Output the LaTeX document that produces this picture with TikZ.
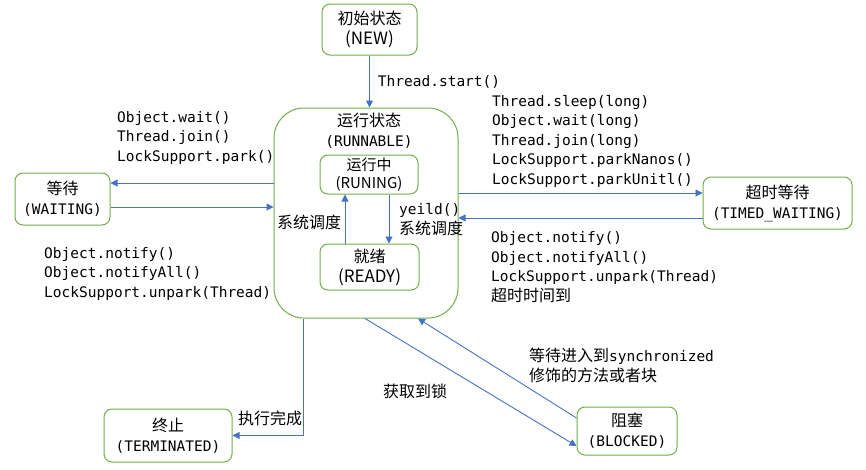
\documentclass[tikz,border=0pt]{standalone}
\usepackage{fontspec}
\setmainfont{Noto Sans CJK SC}
\setmonofont{DejaVu Sans Mono}
\usetikzlibrary{arrows.meta}
\definecolor{boxgreen}{RGB}{112,173,71}
\definecolor{lineblue}{RGB}{68,114,196}
\newcommand{\codetext}[1]{{\ttfamily\fontsize{14.5pt}{19.5pt}\selectfont #1}}
\newcommand{\cjktext}[1]{{\rmfamily\fontsize{16pt}{19.5pt}\selectfont #1}}

\begin{document}
\begin{tikzpicture}[x=1pt, y=-1pt, >={Triangle[length=7pt,width=7pt]},
  state/.style={draw=boxgreen, line width=1pt, rounded corners=8pt, align=center, inner sep=0pt, font=\fontsize{16pt}{20pt}\selectfont},
  trans/.style={->, draw=lineblue, line width=0.9pt},
  code/.style={anchor=west, align=left, inner sep=0pt, font=\ttfamily\fontsize{14.5pt}{19.5pt}\selectfont},
  note/.style={anchor=west, align=left, inner sep=0pt, font=\fontsize{16pt}{20pt}\selectfont}]
  \useasboundingbox (0,0) rectangle (866,469);

  \node[state, minimum width=95pt, minimum height=51pt] (new) at (369.5,29.5) {初始状态\\\fontsize{17pt}{20pt}\selectfont(NEW)};
  \node[state, rounded corners=30pt, minimum width=184pt, minimum height=210pt] (runnable) at (366,213) {};
  \node[align=center, inner sep=0pt, font=\fontsize{16pt}{20pt}\selectfont] (runtitle) at (369,131) {运行状态\\\codetext{(RUNNABLE)}};
  \node[state, minimum width=98pt, minimum height=39pt, font=\fontsize{15pt}{18pt}\selectfont] (runing) at (369,174.5) {运行中\\(RUNING)};
  \node[state, minimum width=99pt, minimum height=46pt] (ready) at (369.5,267) {就绪\\\fontsize{17pt}{20pt}\selectfont(READY)};
  \node[state, minimum width=95pt, minimum height=52pt] (waiting) at (62.5,199) {等待\\\codetext{(WAITING)}};
  \node[state, minimum width=149pt, minimum height=52pt] (timed) at (777.5,203) {超时等待\\\codetext{(TIMED\_WAITING)}};
  \node[state, minimum width=128pt, minimum height=53pt] (terminated) at (168,435.5) {终止\\\codetext{(TERMINATED)}};
  \node[state, minimum width=100pt, minimum height=48pt] (blocked) at (627,431) {阻塞\\\codetext{(BLOCKED)}};

  \draw[trans] (new) -- (new |- runnable.north) node[code, midway, xshift=8pt] {Thread.start()};

  \draw[trans] (runnable.west |- 0,183) -- (waiting.east |- 0,183);
  \draw[trans] (waiting.east |- 0,207) -- (runnable.west |- 0,207);
  \node[code] (waitin) at (117,137.5) {Object.wait()\\Thread.join()\\LockSupport.park()};
  \node[code] (waitout) at (44,273.5) {Object.notify()\\Object.notifyAll()\\LockSupport.unpark(Thread)};

  \draw[trans] (runing.south -| 389,0) -- (ready.north -| 389,0);
  \draw[trans] (ready.north -| 345,0) -- (runing.south -| 345,0);
  \node[note] (sched) at (277,222) {系统调度};
  \node[code] (yield) at (399,219.5) {yeild()\\\cjktext{系统调度}};

  \draw[trans] (runnable.east |- 0,193) -- (timed.west |- 0,193);
  \draw[trans] (timed.west |- 0,218) -- (runnable.east |- 0,218);
  \node[code] (timedin) at (492,141) {Thread.sleep(long)\\Object.wait(long)\\Thread.join(long)\\LockSupport.parkNanos()\\LockSupport.parkUnitl()};
  \node[code] (timedout) at (491,267) {Object.notify()\\Object.notifyAll()\\LockSupport.unpark(Thread)\\\cjktext{超时时间到}};

  \draw[trans] (runnable.south -| 303,0) |- (terminated.east);
  \node[note] (done) at (238,418) {执行完成};

  \draw[trans] (runnable.south -| 365,0) -- (blocked.west |- 0,446);
  \draw[trans] (blocked.west |- 0,418) -- (runnable.south -| 418,0);
  \node[note] (lockget) at (383,391) {获取到锁};
  \node[note] (lockwait) at (529,365) {等待进入到\codetext{synchronized}\\修饰的方法或者块};
\end{tikzpicture}
\end{document}
